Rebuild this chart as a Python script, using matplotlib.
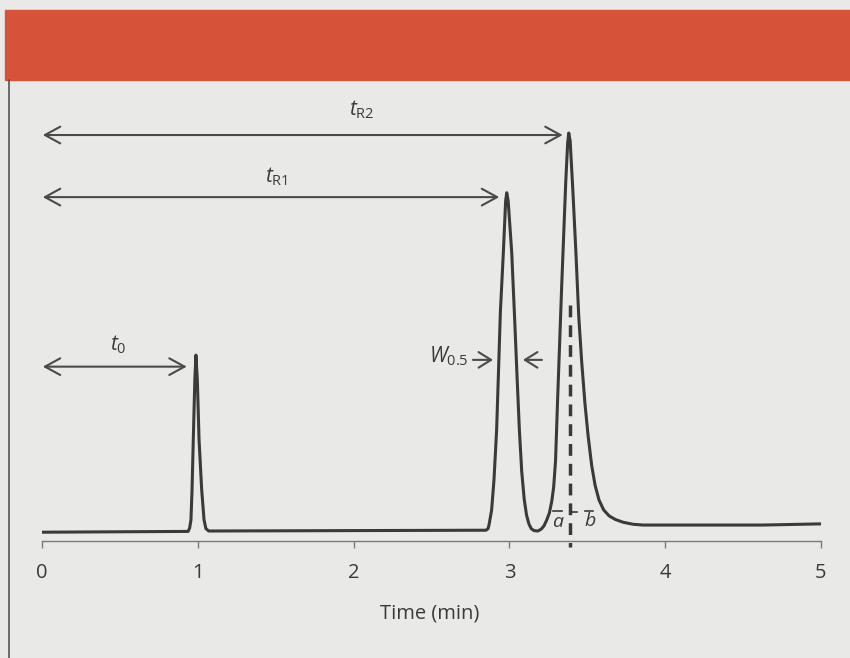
import matplotlib
matplotlib.use("Agg")
from matplotlib import pyplot as plt
from matplotlib.patches import Rectangle
from matplotlib.lines import Line2D

plt.rcParams['font.family'] = ['Open Sans', 'DejaVu Sans']
plt.rcParams['mathtext.fontset'] = 'custom'
plt.rcParams['mathtext.rm'] = 'Open Sans'
plt.rcParams['mathtext.it'] = 'Open Sans:italic'

# chromatogram trace (time in min, signal in % of tallest peak)
time_min = [0.0, 0.938, 0.948, 0.956, 0.963, 0.971, 0.981, 0.988, 0.997, 1.008, 1.025, 1.040, 1.052, 1.070,
            2.850, 2.863, 2.869, 2.886, 2.901, 2.918, 2.930, 2.942, 2.961, 2.976, 2.983, 2.992,
            3.015, 3.034, 3.050, 3.064, 3.079, 3.095, 3.110, 3.125, 3.140, 3.158, 3.183, 3.205, 3.222,
            3.240, 3.257, 3.272, 3.284, 3.296, 3.310, 3.325, 3.336, 3.348, 3.362, 3.374, 3.381,
            3.390, 3.408, 3.427, 3.445, 3.464, 3.485, 3.505, 3.528, 3.550, 3.575, 3.605, 3.640,
            3.680, 3.730, 3.793, 3.857, 4.628, 5.006]
signal = [-0.3, -0.1, 0.8, 2.8, 10.3, 22.9, 38.0, 44.2, 38.0, 22.9, 10.3, 2.8, 0.6, 0.0,
          0.2, 0.6, 1.5, 5.3, 12.8, 25.4, 40.0, 55.0, 69.9, 83.0, 85.0, 83.0,
          69.9, 53.0, 38.0, 25.4, 15.0, 8.0, 4.0, 1.8, 0.6, 0.1, 0.0, 0.5, 1.3,
          2.8, 4.6, 7.5, 11.0, 17.5, 33.7, 50.0, 62.0, 74.0, 88.0, 97.5, 100.0,
          98.0, 85.0, 69.9, 54.0, 42.5, 32.0, 24.0, 16.5, 11.5, 7.8, 5.3, 3.8,
          2.9, 2.2, 1.7, 1.5, 1.5, 1.8]

x_ticks = [0, 1, 2, 3, 4, 5]

# annotation values (min, %)
t0 = 0.929
tR1 = 2.935
tR2 = 3.342
t_half_left = 2.895
t_half_right = 3.087
t_asym = 3.389

fig = plt.figure(figsize=(8.5, 6.58), dpi=100)
fig.patch.set_facecolor('#e9e9e7')

# red header band and the panel's left rule
fig.patches.append(Rectangle((5 / 850, 1 - 80 / 658), 1, 70 / 658,
                             transform=fig.transFigure, color='#d6533a', zorder=0))
fig.lines.append(Line2D([9 / 850, 9 / 850], [0, 1 - 80 / 658],
                        transform=fig.transFigure, color='#555555', lw=1.2))

ax = fig.add_axes([42 / 850, 117 / 658, 779 / 850, 441 / 658])
ax.set_facecolor('none')
ax.set_xlim(0, 5)
ax.set_ylim(-2.51, 108.3)

ink = '#3a3a3a'
ax.plot(time_min, signal, color=ink, lw=2.2, solid_joinstyle='round', solid_capstyle='round')

for side in ['left', 'right', 'top']:
    ax.spines[side].set_visible(False)
ax.spines['bottom'].set_color('#7a7a7a')
ax.spines['bottom'].set_linewidth(1.0)
ax.set_yticks([])
ax.set_xticks(x_ticks)
ax.set_xticklabels([str(t) for t in x_ticks])
ax.tick_params(axis='x', direction='out', length=5, width=1, color='#7a7a7a',
               pad=11, labelsize=14.5, labelcolor=ink)

arrow_kw = dict(color='#4a4a4a', lw=1.5, shrinkA=0, shrinkB=0, mutation_scale=20)

def span_arrow(x_end, y, label, lx, ly):
    ax.annotate('', xy=(0.005, y), xytext=(x_end, y),
                arrowprops=dict(arrowstyle='<->,head_length=0.55,head_width=0.3', **arrow_kw))
    ax.text(lx, ly, label, ha='center', va='center', fontsize=15, color=ink)

span_arrow(tR2, 99.5, r'$t_{\mathrm{R2}}$', 2.054, 105.8)
span_arrow(tR1, 83.9, r'$t_{\mathrm{R1}}$', 1.508, 89.0)
span_arrow(t0, 41.3, r'$t_{0}$', 0.488, 46.7)

# half-height width markers
ax.annotate('', xy=(t_half_left, 43.0), xytext=(2.766, 43.0),
            arrowprops=dict(arrowstyle='->,head_length=0.45,head_width=0.28', **arrow_kw))
ax.annotate('', xy=(t_half_right, 43.0), xytext=(3.209, 43.0),
            arrowprops=dict(arrowstyle='->,head_length=0.45,head_width=0.28', **arrow_kw))
ax.text(2.735, 43.8, r'$W_{\mathrm{0.5}}$', ha='right', va='center', fontsize=15, color=ink)

# asymmetry marker through the last peak
ax.plot([t_asym, t_asym], [56.8, -4.0], color=ink, lw=2.5, dashes=(3.4, 2.3), clip_on=False)
ax.text(3.312, 2.3, 'a', style='italic', ha='center', va='center', fontsize=14, color=ink)
ax.text(3.518, 2.5, 'b', style='italic', ha='center', va='center', fontsize=14, color=ink)
ax.plot([3.283, 3.337], [5.15, 5.15], color=ink, lw=1.2)
ax.plot([3.487, 3.538], [5.15, 5.15], color=ink, lw=1.2)
ax.plot([t_asym, 3.434], [4.9, 4.9], color=ink, lw=1.2)

fig.text(430 / 850, 1 - 614 / 658, 'Time (min)', ha='center', va='center', fontsize=14.5, color=ink)

fig.savefig('out.png', dpi=100, facecolor=fig.get_facecolor())
